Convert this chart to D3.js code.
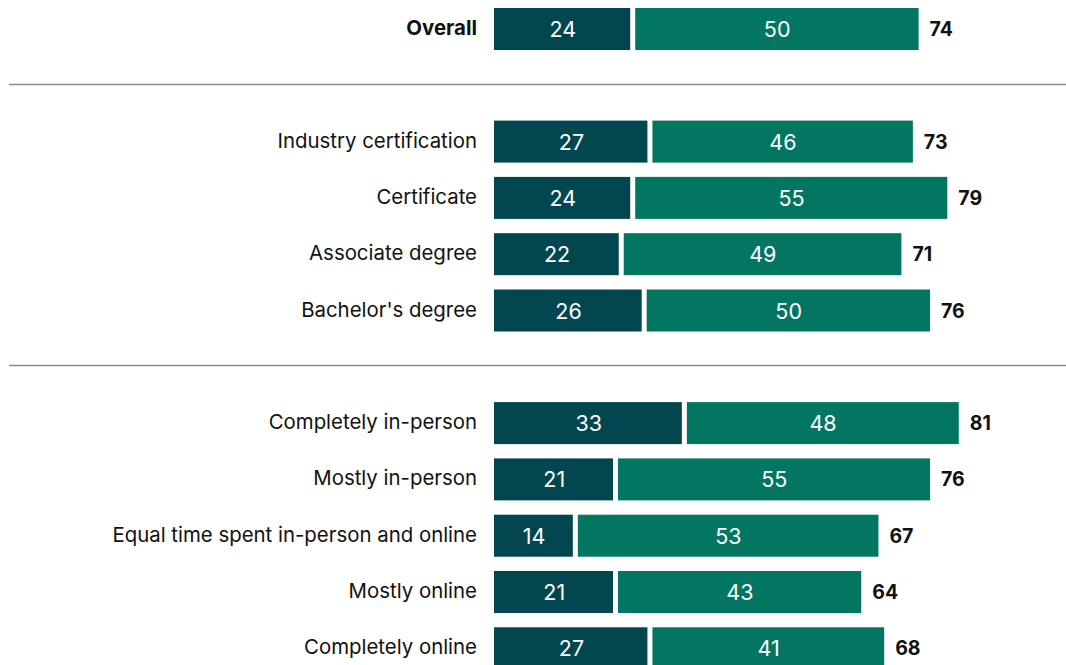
<!DOCTYPE html>
<html><head><meta charset="utf-8">
<script src="https://cdn.jsdelivr.net/npm/d3@7"></script>
<style>body{margin:0;background:#fff}svg{display:block}text{font-family:Inter,"Noto Sans",sans-serif}</style>
</head><body><svg id="c" width="1066" height="665"></svg>
<script>
const categories = ["Overall","", "Industry certification","Certificate","Associate degree","Bachelor's degree","", "Completely in-person","Mostly in-person","Equal time spent in-person and online","Mostly online","Completely online"];
const firstValues = [24,null,27,24,22,26,null,33,21,14,21,27];
const secondValues = [50,null,46,55,49,50,null,48,55,53,43,41];
const totals = [74,null,73,79,71,76,null,81,76,67,64,68];
const boldRows = ["Overall"];
const colors = {first:"#02474f", second:"#037662"};

const svg = d3.select("#c");
const x = d3.scaleLinear().domain([0,100]).range([494,494+573.8]);
const y = d3.scaleBand().domain(d3.range(categories.length)).range([8,8+56.3*12]).paddingInner(0).paddingOuter(0);
const bh = 42;

const rows = categories.map((c,i)=>({c,i,a:firstValues[i],b:secondValues[i],t:totals[i]}));
rows.filter(r=>r.a===null).forEach(r=>{
  const yy = Math.round(y(r.i)+bh/2-1.5)+0.5;
  svg.append("line").attr("x1",9).attr("x2",1066).attr("y1",yy).attr("y2",yy)
    .attr("stroke","#8a8d8e").attr("stroke-width",1.3);
});
const data = rows.filter(r=>r.a!==null);
const g = svg.selectAll("g.row").data(data).join("g").attr("class","row")
  .attr("transform",d=>`translate(0,${y(d.i)})`);
g.append("rect").attr("x",x(0)).attr("y",0).attr("height",bh)
  .attr("width",d=>x(d.a)-x(0)-1.5).attr("fill",colors.first);
g.append("rect").attr("x",d=>x(d.a)+3.5).attr("y",0).attr("height",bh)
  .attr("width",d=>x(d.a+d.b)-x(d.a)-3.5).attr("fill",colors.second);
g.append("text").attr("x",d=>(x(0)+x(d.a))/2).attr("y",bh/2+8)
  .attr("text-anchor","middle").attr("fill","#fff").attr("font-size",21.5).text(d=>d.a);
g.append("text").attr("x",d=>(x(d.a)+x(d.a+d.b))/2+2).attr("y",bh/2+8)
  .attr("text-anchor","middle").attr("fill","#fff").attr("font-size",21.5).text(d=>d.b);
g.append("text").attr("x",d=>x(d.t)+11).attr("y",bh/2+7)
  .attr("fill","#111").attr("font-weight",700).attr("font-size",19.5).text(d=>d.t);
g.append("text").attr("x",477).attr("y",bh/2+6)
  .attr("text-anchor","end").attr("fill","#111").attr("font-size",20.4)
  .attr("font-weight",d=>boldRows.includes(d.c)?700:400).text(d=>d.c);
</script></body></html>
